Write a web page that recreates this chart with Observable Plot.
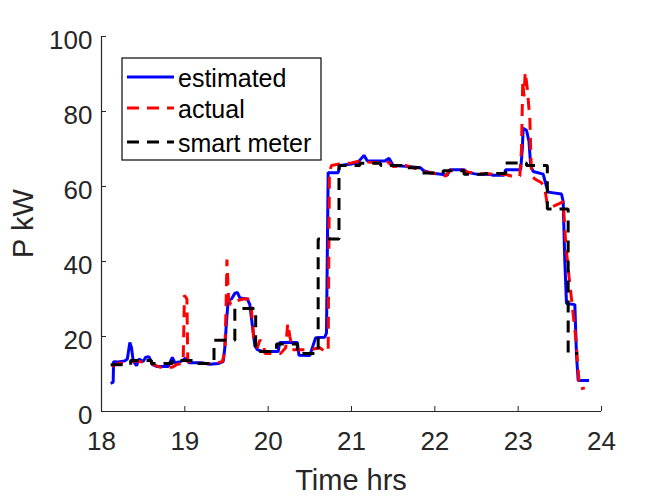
<!DOCTYPE html>
<html><head><meta charset="utf-8">
<script src="https://cdn.jsdelivr.net/npm/d3@7"></script>
<script src="https://cdn.jsdelivr.net/npm/@observablehq/plot@0.6"></script>
<style>body{margin:0;background:#fff} #chart{width:664px;height:498px}</style>
</head><body><div id="chart"></div>
<script>
// [time in hours, power in kW]
const estimated = [[18.11,7.5],[18.14,7.8],[18.145,13.3],[18.2,13.2],[18.28,13.5],[18.31,14],[18.34,18.4],[18.36,17],[18.38,13.5],[18.42,12.2],[18.45,14],[18.5,13.3],[18.53,14.5],[18.57,14.6],[18.61,12.5],[18.67,12],[18.8,12],[18.85,14.4],[18.88,13],[18.95,13.3],[19.01,14.2],[19.05,13],[19.2,13],[19.3,12.6],[19.4,12.8],[19.46,13.3],[19.48,17],[19.5,24],[19.52,29.6],[19.56,30],[19.6,31.5],[19.63,31.8],[19.66,30.3],[19.75,30],[19.78,28.5],[19.81,23],[19.84,17.5],[19.87,16.5],[19.93,16],[20.12,16],[20.14,18.4],[20.35,18.4],[20.37,15],[20.5,14.9],[20.53,17],[20.57,19.7],[20.68,19.8],[20.7,21],[20.72,63.7],[20.84,63.7],[20.86,65.6],[21.0,66],[21.08,66.5],[21.15,68.3],[21.19,66.8],[21.4,66.8],[21.45,67.5],[21.5,65.6],[21.7,65.3],[21.83,65],[21.86,64.3],[21.95,63.6],[22.1,63.2],[22.15,63],[22.18,64.5],[22.35,64.5],[22.4,63.7],[22.5,63.3],[22.67,63.2],[22.7,63],[22.83,63],[22.85,64.5],[23.03,64.5],[23.05,70],[23.06,75.5],[23.1,75],[23.13,72],[23.15,65.6],[23.18,64],[23.3,63.3],[23.34,60],[23.36,58.5],[23.52,58],[23.54,56],[23.56,40],[23.58,28.8],[23.68,28.5],[23.7,15],[23.72,8.3],[23.85,8.3]];
const actual = [[18.12,12],[18.2,12.8],[18.3,13],[18.4,13.5],[18.5,13.2],[18.6,12.8],[18.7,11.8],[18.85,11.8],[18.9,12.5],[18.98,13],[18.995,31],[19.025,30],[19.035,13.3],[19.1,13.3],[19.2,12.8],[19.35,12.8],[19.45,13.3],[19.48,16],[19.495,28],[19.505,40.5],[19.525,30],[19.55,28.5],[19.62,29.5],[19.7,30],[19.78,30],[19.8,27],[19.83,18.5],[19.87,17],[19.9,19],[19.94,18.5],[19.96,15.5],[20.15,15.5],[20.21,17],[20.235,23.5],[20.26,20],[20.29,16.5],[20.5,16.5],[20.62,17],[20.68,16],[20.72,16],[20.735,64],[20.76,65.6],[20.85,66],[21.0,66.3],[21.1,66.8],[21.2,66.5],[21.3,66.3],[21.42,66.8],[21.5,65.3],[21.65,65.6],[21.8,64.6],[21.9,63.8],[22.05,63.3],[22.13,62.8],[22.18,64.3],[22.3,64.6],[22.4,63.8],[22.55,63.5],[22.7,63.3],[22.85,63.2],[22.95,62.6],[23.02,62.8],[23.04,70],[23.055,88],[23.07,84],[23.085,90.5],[23.11,86],[23.14,78],[23.16,63],[23.2,62],[23.28,61],[23.32,59.5],[23.35,55],[23.4,54.5],[23.5,55.5],[23.54,56],[23.57,45],[23.61,36],[23.65,28],[23.69,20],[23.73,8],[23.75,6],[23.8,6.3]];
const smartMeter = [[18.11,12.5],[18.35,13.6],[18.6,12.8],[18.85,13.6],[19.1,12.8],[19.35,19],[19.6,27.5],[19.85,16],[20.1,18],[20.35,15.5],[20.6,46],[20.85,65.6],[21.1,66.2],[21.35,65.6],[21.6,65],[21.85,63.6],[22.1,64.2],[22.35,63.3],[22.6,63.5],[22.85,66.3],[23.1,65.6],[23.35,54],[23.6,15.5],[23.72,15.5]];
const xTicks = [18,19,20,21,22,23,24];
const yTicks = [0,20,40,60,80,100];
const seriesNames = ["estimated","actual","smart meter"];
const seriesColors = ["#0000ff","#ff0000","#000000"];
const seriesDash = [null,"12,8","12,8"];
const xLabel = "Time hrs";
const yLabel = "P kW";

const toRows = arr => arr.map(([t, v]) => ({t, v}));
const axisColor = "#262626";
const font = "'Liberation Sans', Arial, Helvetica, sans-serif";

const lineOpts = (i) => ({x: "t", y: "v", stroke: seriesColors[i], strokeWidth: 3,
  strokeDasharray: seriesDash[i], strokeLinecap: "butt", strokeLinejoin: "miter"});

const chart = Plot.plot({
  width: 664, height: 498,
  marginLeft: 101, marginRight: 63, marginTop: 36, marginBottom: 87,
  style: {fontFamily: font, background: "white", color: axisColor, overflow: "visible"},
  x: {domain: [18, 24]},
  y: {domain: [0, 100]},
  marks: [
    Plot.line(toRows(estimated), lineOpts(0)),
    Plot.line(toRows(actual), lineOpts(1)),
    Plot.line(toRows(smartMeter), {...lineOpts(2), curve: "step-after"}),
    Plot.ruleX([18], {stroke: axisColor, strokeWidth: 1.2}),
    Plot.ruleY([0], {stroke: axisColor, strokeWidth: 1.2}),
    Plot.axisX(xTicks, {tickSize: -5, tickFormat: () => "", label: null}),
    Plot.axisX(xTicks, {tickSize: 0, tickPadding: 20, fontSize: 26, label: null}),
    Plot.axisY(yTicks, {tickSize: -5, tickFormat: () => "", label: null}),
    Plot.axisY(yTicks, {tickSize: 0, tickPadding: 9, fontSize: 26, dy: 4, label: null})
  ]
});
document.getElementById("chart").appendChild(chart);

const svg = d3.select(chart);
svg.append("text").attr("x", 351).attr("y", 490).attr("text-anchor", "middle")
  .attr("font-family", font).attr("font-size", 29).attr("fill", axisColor).text(xLabel);
svg.append("text").attr("transform", "translate(33,223.5) rotate(-90)").attr("text-anchor", "middle")
  .attr("font-family", font).attr("font-size", 29).attr("fill", axisColor).text(yLabel);

const lg = svg.append("g");
lg.append("rect").attr("x", 122).attr("y", 58).attr("width", 199).attr("height", 102)
  .attr("fill", "white").attr("stroke", "#1a1a1a").attr("stroke-width", 1.3);
const rowY = [77, 108, 142];
seriesNames.forEach((name, i) => {
  lg.append("line").attr("x1", 127).attr("x2", 174).attr("y1", rowY[i]).attr("y2", rowY[i])
    .attr("stroke", seriesColors[i]).attr("stroke-width", 3)
    .attr("stroke-dasharray", seriesDash[i]);
  lg.append("text").attr("x", 178).attr("y", rowY[i] + 9.5).attr("text-anchor", "start")
    .attr("font-family", font).attr("font-size", 25).attr("fill", "#000").text(name);
});
</script>
</body></html>
